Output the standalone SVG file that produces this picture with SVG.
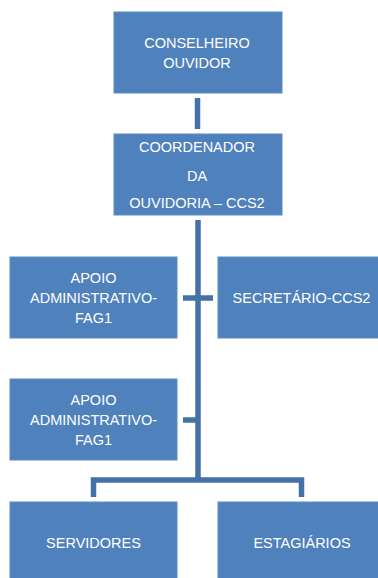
<svg xmlns="http://www.w3.org/2000/svg" width="378" height="578" viewBox="0 0 378 578">
<style>
.box{fill:#4F81BD;stroke:#5B8BC4;stroke-width:1}
.t{font-family:"Liberation Sans",Arial,sans-serif;font-size:14.5px;fill:#FFFFFF;text-anchor:middle}
.c{stroke:#4471A8;stroke-width:5.5;fill:none;stroke-linejoin:miter}
</style>
<rect width="378" height="578" fill="#FFFFFF"/>
<g id="connectors">
<line class="c" x1="197.5" y1="98" x2="197.5" y2="129"/>
<line class="c" x1="198" y1="220" x2="198" y2="480"/>
<line class="c" x1="183" y1="298" x2="213" y2="298"/>
<line class="c" x1="183" y1="420" x2="198" y2="420"/>
<polyline class="c" points="93.5,497 93.5,480 301.5,480 301.5,497"/>
</g>
<g id="conselheiro">
<rect class="box" x="114" y="12" width="168" height="81"/>
<text class="t" x="197" y="48">CONSELHEIRO</text>
<text class="t" x="197" y="67.5">OUVIDOR</text>
</g>
<g id="coordenador">
<rect class="box" x="114" y="134" width="168" height="81"/>
<text class="t" x="197" y="152">COORDENADOR</text>
<text class="t" x="197" y="181">DA</text>
<text class="t" x="197" y="208">OUVIDORIA – CCS2</text>
</g>
<g id="apoio1">
<rect class="box" x="10" y="257" width="167" height="81"/>
<text class="t" x="93.5" y="283">APOIO</text>
<text class="t" x="93.5" y="303">ADMINISTRATIVO-</text>
<text class="t" x="93.5" y="323">FAG1</text>
</g>
<g id="secretario">
<rect class="box" x="218" y="257" width="167" height="81"/>
<text class="t" x="301.5" y="303">SECRETÁRIO-CCS2</text>
</g>
<g id="apoio2">
<rect class="box" x="10" y="379" width="167" height="81"/>
<text class="t" x="93.5" y="405">APOIO</text>
<text class="t" x="93.5" y="425">ADMINISTRATIVO-</text>
<text class="t" x="93.5" y="445">FAG1</text>
</g>
<g id="servidores">
<rect class="box" x="10" y="502" width="167" height="81"/>
<text class="t" x="93.5" y="548">SERVIDORES</text>
</g>
<g id="estagiarios">
<rect class="box" x="218" y="502" width="167" height="81"/>
<text class="t" x="302" y="548">ESTAGIÁRIOS</text>
</g>
</svg>
